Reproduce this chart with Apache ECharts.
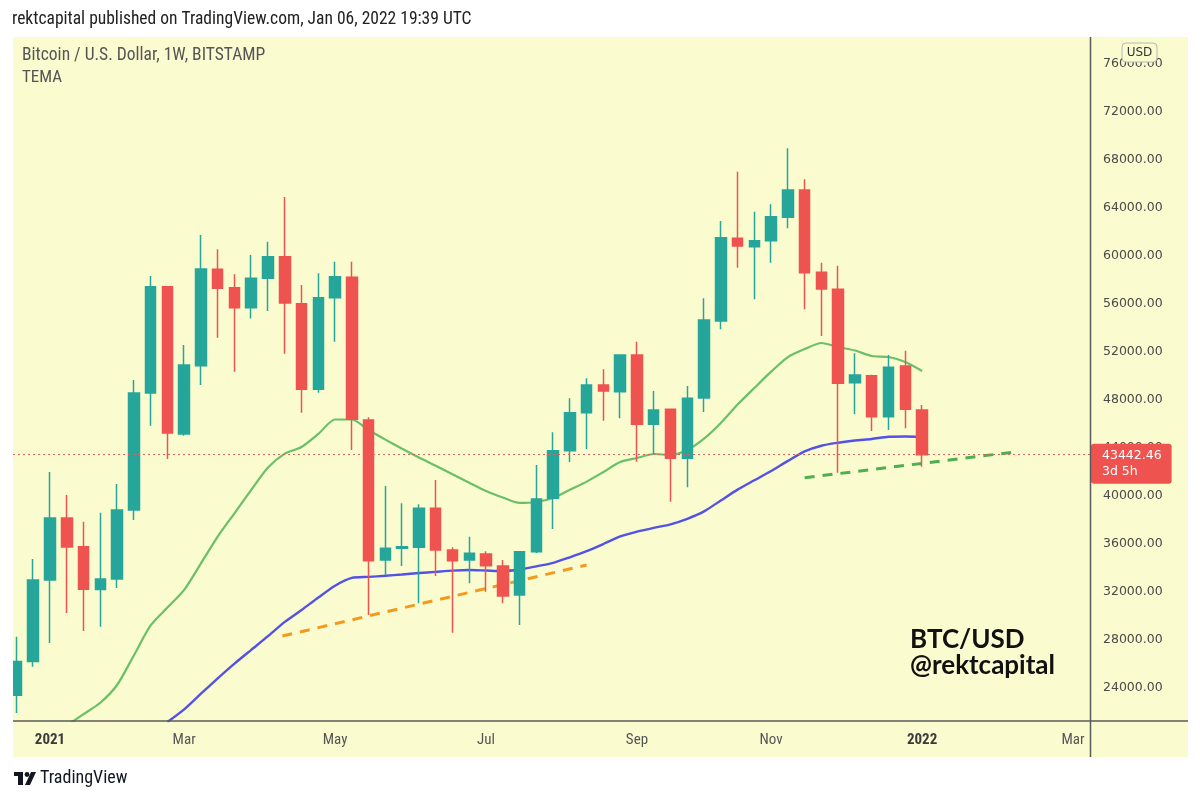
<!DOCTYPE html>
<html><head><meta charset="utf-8">
<script src="https://cdn.jsdelivr.net/npm/echarts@6/dist/echarts.min.js"></script>
<style>html,body{margin:0;padding:0;background:#fff}#c{width:1200px;height:801px}</style>
</head><body><div id="c"></div>
<script>
// Weekly candles (BTC/USD, BITSTAMP, 1W)
const weeks = ['2020-12-21','2020-12-28','2021-01-04','2021-01-11','2021-01-18','2021-01-25','2021-02-01','2021-02-08','2021-02-15','2021-02-22','2021-03-01','2021-03-08','2021-03-15','2021-03-22','2021-03-29','2021-04-05','2021-04-12','2021-04-19','2021-04-26','2021-05-03','2021-05-10','2021-05-17','2021-05-24','2021-05-31','2021-06-07','2021-06-14','2021-06-21','2021-06-28','2021-07-05','2021-07-12','2021-07-19','2021-07-26','2021-08-02','2021-08-09','2021-08-16','2021-08-23','2021-08-30','2021-09-06','2021-09-13','2021-09-20','2021-09-27','2021-10-04','2021-10-11','2021-10-18','2021-10-25','2021-11-01','2021-11-08','2021-11-15','2021-11-22','2021-11-29','2021-12-06','2021-12-13','2021-12-20','2021-12-27','2022-01-03'];
const opens  = [23400,26200,33000,38170,35780,32200,33080,38830,48580,57440,45170,50860,58890,57360,55690,58140,59940,56030,48890,56530,58225,46330,34670,35650,35720,38970,35500,34670,35170,34170,31750,35360,39810,43780,46940,49250,48690,51750,45970,47220,43140,48170,54580,61470,60780,61280,63220,65500,58640,57220,49440,50030,46610,50830,47170];
const highs  = [28280,34750,42000,40080,37860,38600,41000,49670,58330,57500,52580,61750,60560,58470,60080,61190,64920,57580,58560,59525,59525,46560,40830,39390,39310,41330,35720,36610,35400,34670,35400,42580,45310,48140,49810,50560,51800,52860,48750,47300,49170,56470,62920,67030,63690,64310,68970,66390,59440,59190,51890,50100,51750,52110,47580];
const lows   = [21920,25780,27750,30250,28750,29100,32330,38000,45860,43080,45020,49250,53190,50360,54800,55420,51860,46940,48610,52860,43830,30080,33420,34170,31060,33330,28610,32720,32030,31060,29250,35250,37250,42810,43920,46280,46470,42860,43500,39530,40720,47000,53890,59030,56390,59440,62310,55560,53330,41940,46810,45420,45500,45640,42440];
const closes = [26200,33000,38170,35750,32230,33080,38830,48580,57440,45250,50920,58920,57310,55690,58140,59940,56080,48890,56530,58275,46390,34610,35640,35780,38970,35500,34610,35220,34190,31670,35360,39750,43780,46940,49250,48750,51750,45970,47170,43140,48140,54670,61530,60830,61280,63280,65500,58610,57250,49390,50080,46610,50720,47220,43442.46];
// TEMA lines (green = faster, blue = slower)
const temaFast = [null,null,19920,20870,21820,22770,24250,26710,29210,30700,32180,34380,36620,38560,40510,42370,43530,44080,45170,46375,46375,45500,44700,43940,43210,42520,41810,41100,40410,39870,39420,39500,39830,40520,41200,42000,42830,43170,43500,43420,43830,44780,46090,47620,49000,50360,51580,52250,52750,52420,52125,51670,51580,51170,50420];
const temaSlow = [null,null,null,null,null,null,null,null,null,21170,22225,23525,24800,26030,27180,28320,29510,30500,31540,32525,33170,33260,33350,33460,33580,33680,33780,33830,33790,33750,33875,34140,34430,34890,35400,36000,36630,37025,37350,37640,38100,38720,39625,40530,41310,42080,42925,43720,44190,44440,44630,44750,44940,44960,44920];
// Hand-drawn trend lines
const supportOrange = [['2021-04-11', 28330], ['2021-08-16', 34250]];
const supportGreen  = [['2021-11-15', 41520], ['2022-02-10', 43650]];
const lastPrice = 43442.46;
const lastPriceNote = '3d 5h';
const priceTicks = [24000,28000,32000,36000,40000,44000,48000,52000,56000,60000,64000,68000,72000,76000];
const dateTicks = ['2021-01-04','2021-03-01','2021-05-03','2021-07-05','2021-09-06','2021-11-01','2022-01-03','2022-03-07'];
const dateTickLabels = ['2021','Mar','May','Jul','Sep','Nov','2022','Mar'];
const axisStart = '2020-12-19T13:26:00Z';
const axisEnd = '2022-03-14T02:24:00Z';

const toTs = s => s.length > 10 ? Date.parse(s) : (() => { const [y,m,d] = s.split('-').map(Number); return Date.UTC(y, m - 1, d); })();
const UP = '#26a69a', DOWN = '#ef5350';
const BG = '#fbfbd0';
const NARROW = "'Liberation Sans Narrow', 'Roboto Condensed', Roboto, sans-serif";
const tickTs = dateTicks.map(toTs);

const chart = echarts.init(document.getElementById('c'), null, {renderer: 'canvas'});
chart.setOption({
  backgroundColor: '#ffffff',
  animation: false,
  grid: {left: 13, right: 110, top: 37, bottom: 80, containLabel: false},
  xAxis: {
    type: 'value', min: toTs(axisStart), max: toTs(axisEnd),
    splitLine: {show: false}, axisLine: {show: false}, axisTick: {show: false},
    axisLabel: {
      customValues: tickTs, margin: 12, hideOverlap: false,
      formatter: v => {
        let i = -1;
        tickTs.forEach((t, j) => { if (Math.abs(t - v) < 3600000) i = j; });
        if (i < 0) return '';
        const t = dateTickLabels[i];
        return /^\d{4}$/.test(t) ? '{y|' + t + '}' : '{m|' + t + '}';
      },
      rich: {
        y: {fontFamily: NARROW, fontSize: 15, fontWeight: 'bold', color: '#3a3a3a'},
        m: {fontFamily: NARROW, fontSize: 15, color: '#555555'}
      }
    }
  },
  yAxis: {
    type: 'value', position: 'right', min: 21250, max: 78250,
    splitLine: {show: false}, axisLine: {show: false}, axisTick: {show: false},
    axisLabel: {customValues: priceTicks, formatter: v => Number(v).toFixed(2), color: '#4a4a4a', fontFamily: 'DejaVu Sans', fontSize: 12.5, margin: 13}
  },
  series: [
    {type: 'line', name: 'TEMA fast', z: 2, data: weeks.map((w, i) => [toTs(w), temaFast[i]]), symbol: 'none', smooth: 0.25,
     lineStyle: {color: '#6abf69', width: 2.2}},
    {type: 'line', name: 'TEMA slow', z: 2, data: weeks.map((w, i) => [toTs(w), temaSlow[i]]), symbol: 'none', smooth: 0.25,
     lineStyle: {color: '#5252e6', width: 2.4}},
    {type: 'line', name: 'orange trend', z: 2, data: supportOrange.map(p => [toTs(p[0]), p[1]]), symbol: 'none',
     lineStyle: {color: '#f39a1e', width: 3, type: [10, 8]}},
    {type: 'line', name: 'green trend', z: 2, data: supportGreen.map(p => [toTs(p[0]), p[1]]), symbol: 'none',
     lineStyle: {color: '#4caf50', width: 3, type: [10, 8]}},
    {type: 'candlestick', name: 'BTCUSD', z: 3, barWidth: 11,
     dimensions: ['date', 'open', 'close', 'lowest', 'highest'],
     encode: {x: 0, y: [1, 2, 3, 4]},
     data: weeks.map((w, i) => [toTs(w), opens[i], closes[i], lows[i], highs[i]]),
     itemStyle: {color: UP, color0: DOWN, borderColor: UP, borderColor0: DOWN, borderWidth: 1.5},
     markLine: {
       symbol: 'none', silent: true, animation: false,
       data: [{yAxis: lastPrice}],
       lineStyle: {color: '#e0625e', type: [2, 3], width: 1},
       label: {
         show: true, position: 'end', distance: 1, offset: [0, 9],
         formatter: () => lastPrice.toFixed(2) + '\n' + lastPriceNote,
         backgroundColor: DOWN, color: '#ffffff', padding: [4, 10, 4, 11], borderRadius: 3,
         fontFamily: 'DejaVu Sans', fontSize: 12.5, lineHeight: 16, align: 'left'
       }
     }}
  ],
  graphic: [
    {type: 'rect', z: -100, silent: true, shape: {x: 13, y: 37, width: 1175, height: 720}, style: {fill: BG}},
    {type: 'rect', z: 100, silent: true, shape: {x: 0, y: 37, width: 13, height: 720}, style: {fill: '#ffffff'}},
    {type: 'line', z: 50, silent: true, shape: {x1: 13, y1: 721, x2: 1188, y2: 721}, style: {stroke: '#5a5a5a', lineWidth: 1.5}},
    {type: 'line', z: 50, silent: true, shape: {x1: 1090.5, y1: 37, x2: 1090.5, y2: 757}, style: {stroke: '#5a5a5a', lineWidth: 1.5}},
    {type: 'rect', z: 100, silent: true, shape: {x: 1122, y: 43, width: 35, height: 19, r: 4}, style: {fill: BG, stroke: '#b8b8b0', lineWidth: 1}},
    {type: 'text', z: 101, silent: true, x: 1139.5, y: 53, style: {text: 'USD', fill: '#333333', font: '12px DejaVu Sans', align: 'center', verticalAlign: 'middle'}},
    {type: 'text', z: 100, silent: true, x: 12, y: 20, style: {text: 'rektcapital published on TradingView.com, Jan 06, 2022 19:39 UTC', fill: '#222222', font: '17.5px ' + NARROW, verticalAlign: 'middle'}},
    {type: 'text', z: 100, silent: true, x: 22, y: 56, style: {text: 'Bitcoin / U.S. Dollar, 1W, BITSTAMP', fill: '#555555', font: '17.5px ' + NARROW, verticalAlign: 'middle'}},
    {type: 'text', z: 100, silent: true, x: 22, y: 78, style: {text: 'TEMA', fill: '#555555', font: '17px ' + NARROW, verticalAlign: 'middle'}},
    {type: 'text', z: 100, silent: true, x: 910, y: 640, style: {text: 'BTC/USD', fill: '#111111', font: 'bold 26px Lato', verticalAlign: 'middle'}},
    {type: 'text', z: 100, silent: true, x: 910, y: 666, style: {text: '@rektcapital', fill: '#111111', font: 'bold 26px Lato', verticalAlign: 'middle'}},
    {type: 'rect', z: 100, silent: true, shape: {x: 14, y: 772, width: 9, height: 4}, style: {fill: '#131722'}},
    {type: 'rect', z: 100, silent: true, shape: {x: 18, y: 772, width: 5, height: 13}, style: {fill: '#131722'}},
    {type: 'circle', z: 100, silent: true, shape: {cx: 27, cy: 774.5, r: 2.4}, style: {fill: '#131722'}},
    {type: 'polygon', z: 100, silent: true, shape: {points: [[31, 772], [36, 772], [30, 785], [25, 785]]}, style: {fill: '#131722'}},
    {type: 'text', z: 100, silent: true, x: 40, y: 778, style: {text: 'TradingView', fill: '#131722', font: '18px ' + NARROW, verticalAlign: 'middle'}}
  ]
});
</script></body></html>
